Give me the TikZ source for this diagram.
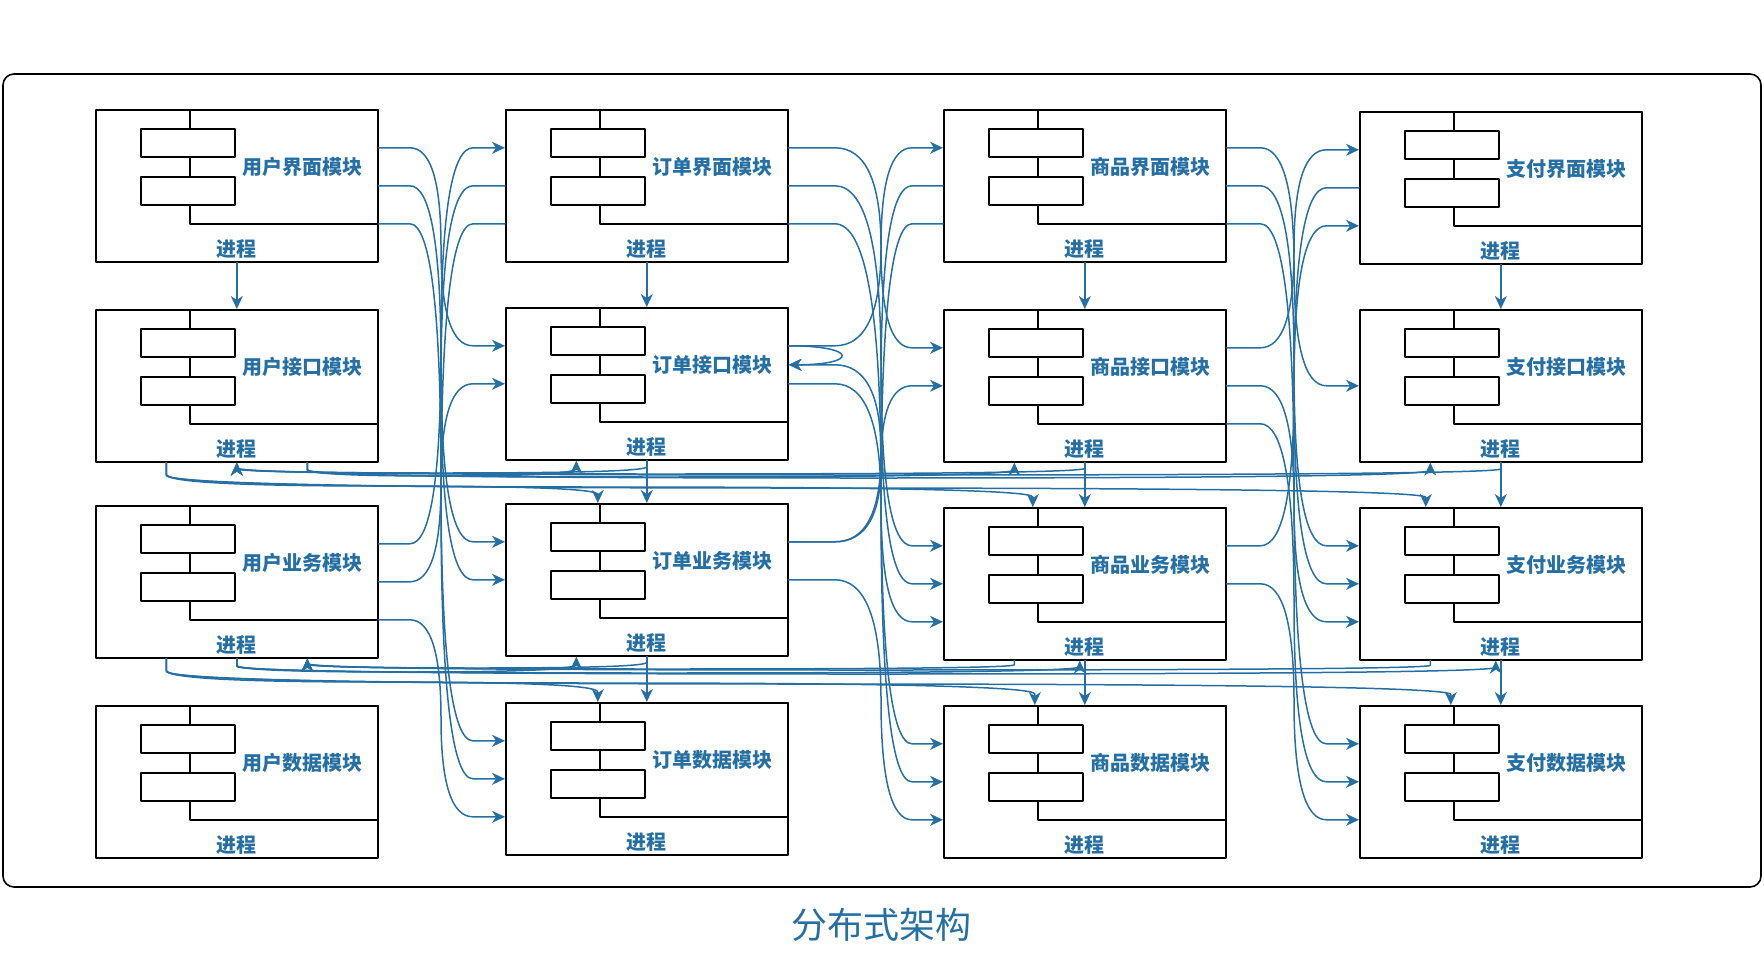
\documentclass[tikz,border=0pt]{standalone}
\usepackage{fontspec}
\setmainfont{Noto Sans CJK SC}
\usetikzlibrary{arrows.meta,calc}

\definecolor{flow}{HTML}{256FA3}

\begin{document}
\begin{tikzpicture}[
			x=1pt, y=-1pt,
			line cap=round,
			line join=round,
			proc/.style={draw, line width=1.6pt, minimum width=282pt, minimum height=152pt, inner sep=0pt, anchor=north west},
			comp/.style={draw, line width=1.6pt, minimum width=188pt, minimum height=114pt, inner sep=0pt, anchor=north west},
			bar/.style={draw, fill=white, line width=1.6pt},
			mod/.style={text=flow, font=\fontsize{20}{24}\selectfont\bfseries},
			link/.style={draw=flow, line width=1.5pt, -{Stealth[length=13pt,width=12pt,inset=4pt]}},
			% curved edge through a vertical channel at x=#1
			bus/.style={to path={let \p1=(\tikztostart), \p2=(\tikztotarget), \p3=(#1,0) in
				-- ({(\x1+\x3)/2},\y1)
				.. controls ({(\x1+5*\x3)/6},\y1) and (\x3,{(5*\y1+\y2)/6}) .. (\x3,{(\y1+\y2)/2})
				.. controls (\x3,{(\y1+5*\y2)/6}) and ({(5*\x3+\x2)/6},\y2) .. ({(\x3+\x2)/2},\y2)
				-- (\x2,\y2)}},
			% curved edge through a horizontal lane at y=#1
			lane/.style={to path={let \p1=(\tikztostart), \p2=(\tikztotarget), \p3=(0,#1) in
				-- (\x1,{(\y1+\y3)/2})
				.. controls (\x1,{(\y1+5*\y3)/6}) and ({(5*\x1+\x2)/6},\y3) .. ({(\x1+\x2)/2},\y3)
				.. controls ({(\x1+5*\x2)/6},\y3) and (\x2,{(5*\y3+\y2)/6}) .. (\x2,{(\y3+\y2)/2})
				-- (\x2,\y2)}}
			]
			\useasboundingbox (0,0) rectangle (1764,958);
			
			% Frame and title
			\draw[line width=1.6pt, rounded corners=11pt] (3,74) rectangle (1761,887);
			\node[text=flow, font=\fontsize{36}{40}\selectfont] (title) at (881,925) {分布式架构};
			
			% Modules
			\foreach \nm/\px/\py/\lab in {
				u1/95/109/用户界面模块, u2/95/309/用户接口模块, u3/95/505/用户业务模块, u4/95/705/用户数据模块,
				o1/505/109/订单界面模块, o2/505/307/订单接口模块, o3/505/503/订单业务模块, o4/505/702/订单数据模块,
				g1/943/109/商品界面模块, g2/943/309/商品接口模块, g3/943/507/商品业务模块, g4/943/705/商品数据模块,
				p1/1359/111/支付界面模块, p2/1359/309/支付接口模块, p3/1359/507/支付业务模块, p4/1359/705/支付数据模块}{
				\node[proc] (\nm) at (\px,\py) {};
				\node[comp] (\nm-m) at (\px+94,\py) {};
				\draw[bar] (\px+46,\py+20) rectangle ++(94,28);
				\draw[bar] (\px+46,\py+68) rectangle ++(94,28);
				\node[mod] (\nm-t) at (\px+207,\py+58) {\lab};
				\node[mod] (\nm-p) at (\px+141,\py+140) {进程};
			}
			
			% Down the columns
			\draw[link] (u1.south) -- (u2.north);
			\foreach \c in {o,g,p}{
				\draw[link] (\c1.south) -- (\c2.north);
				\draw[link] (\c2.south) -- (\c3.north);
				\draw[link] (\c3.south) -- (\c4.north);
			}
			
			% Lane between rows 2 and 3
			\draw[link] ([xshift=-70.5pt]u2.south) to[lane=486] ([xshift=-49pt]o3.north);
			\draw[link] ([xshift=-70.5pt]u2.south) to[lane=487] ([xshift=-52pt]g3.north);
			\draw[link] ([xshift=-70.5pt]u2.south) to[lane=488] ([xshift=-75pt]p3.north);
			\draw[link] ([xshift=70.5pt]u2.south) to[lane=476] ([xshift=-70.5pt]o2.south);
			\draw[link] ([xshift=70.5pt]u2.south) to[lane=477] ([xshift=-70.5pt]g2.south);
			\draw[link] ([xshift=70.5pt]u2.south) to[lane=478] ([xshift=-70.5pt]p2.south);
			\draw[link] (o2.south) to[lane=473] (u2.south);
			\draw[link] (g2.south) to[lane=474] (u2.south);
			\draw[link] (p2.south) to[lane=475] (u2.south);
			
			% Lane between rows 3 and 4
			\draw[link] ([xshift=-70.5pt]u3.south) to[lane=682] ([xshift=-49pt]o4.north);
			\draw[link] ([xshift=-70.5pt]u3.south) to[lane=683] ([xshift=-50pt]g4.north);
			\draw[link] ([xshift=-70.5pt]u3.south) to[lane=684] ([xshift=-50pt]p4.north);
			\draw[link] (u3.south) to[lane=672] ([xshift=-70.5pt]o3.south);
			\draw[link] (u3.south) to[lane=673] ([xshift=-5pt]g3.south);
			\draw[link] (u3.south) to[lane=674] ([xshift=-5pt]p3.south);
			\draw[link] (o3.south) to[lane=668] ([xshift=70.5pt]u3.south);
			\draw[link] ([xshift=-70.5pt]g3.south) to[lane=669] ([xshift=70.5pt]u3.south);
			\draw[link] ([xshift=-70.5pt]p3.south) to[lane=670] ([xshift=70.5pt]u3.south);
			
			% Channel between user and order
			\draw[link] ([yshift=38pt]u1.east) to[bus=441] ([yshift=38pt]o2.west);
			\draw[link] (u1.east) to[bus=441] ([yshift=38pt]o3.west);
			\draw[link] ([yshift=-38pt]u1.east) to[bus=441] ([yshift=38pt]o4.west);
			\draw[link] (o1.west) to[bus=441] (o3.west);
			\draw[link] ([yshift=-38pt]o1.west) to[bus=441] (o4.west);
			\draw[link] ([yshift=38pt]u3.east) to[bus=441] ([yshift=38pt]o1.west);
			\draw[link] (u3.east) to[bus=441] (o2.west);
			\draw[link] ([yshift=-38pt]u3.east) to[bus=441] ([yshift=-38pt]o4.west);
			
			% Channel between order and goods
			\draw[link] ([yshift=38pt]o1.east) to[bus=881] ([yshift=38pt]g2.west);
			\draw[link] (o1.east) to[bus=881] ([yshift=38pt]g3.west);
			\draw[link] ([yshift=-38pt]o1.east) to[bus=881] ([yshift=38pt]g4.west);
			\draw[link] (g1.west) to[bus=881] (g3.west);
			\draw[link] ([yshift=-38pt]g1.west) to[bus=881] (g4.west);
			\draw[link] ([yshift=38pt]o2.east) to[bus=881] ([yshift=38pt]g1.west);
			\draw[link] (o2.east) to[bus=881] ([yshift=-38pt]g3.west);
			\draw[link] ([yshift=38pt]o3.east) to[bus=881] (g2.west);
			\draw[link] ([yshift=38pt]o3.east) to[bus=881] ([yshift=19pt]o2.east);
			\draw[link] (o3.east) to[bus=881] ([yshift=-38pt]g4.west);
			\draw[link] ([yshift=38pt]o2.east) .. controls +(70,0) and +(70,0) .. ([yshift=19pt]o2.east);
			
			% Channel between goods and pay
			\draw[link] ([yshift=38pt]g1.east) to[bus=1294] (p2.west);
			\draw[link] (g1.east) to[bus=1294] ([yshift=38pt]p3.west);
			\draw[link] ([yshift=-38pt]g1.east) to[bus=1294] ([yshift=38pt]p4.west);
			\draw[link] (p1.west) to[bus=1294] (p3.west);
			\draw[link] ([yshift=38pt]g2.east) to[bus=1294] ([yshift=38pt]p1.west);
			\draw[link] (g2.east) to[bus=1294] ([yshift=-38pt]p3.west);
			\draw[link] ([yshift=-38pt]g2.east) to[bus=1294] (p4.west);
			\draw[link] ([yshift=38pt]g3.east) to[bus=1294] ([yshift=-38pt]p1.west);
			\draw[link] (g3.east) to[bus=1294] ([yshift=-38pt]p4.west);
		\end{tikzpicture}
\end{document}
